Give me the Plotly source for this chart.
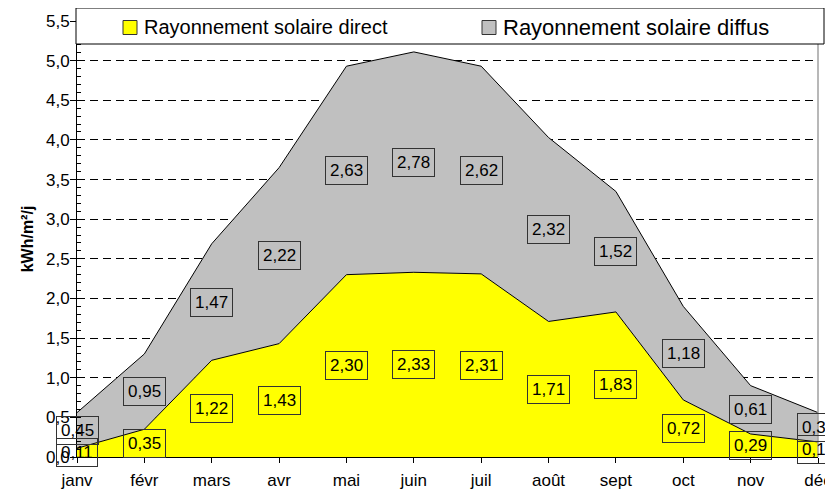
import plotly.graph_objects as go

months = ['janv', 'févr', 'mars', 'avr', 'mai', 'juin',
          'juil', 'août', 'sept', 'oct', 'nov', 'déc']
direct = [0.11, 0.35, 1.22, 1.43, 2.30, 2.33, 2.31, 1.71, 1.83, 0.72, 0.29, 0.19]
diffus = [0.45, 0.95, 1.47, 2.22, 2.63, 2.78, 2.62, 2.32, 1.52, 1.18, 0.61, 0.37]

FONT = 'Liberation Sans, Arial, sans-serif'
YELLOW = '#FFFF00'
GREY = '#C0C0C0'

# page has an 8px body margin, so the figure is a bit smaller than the window
OFF = 8
W, H = 833 - OFF, 493 - OFF
L, R, T, B = 77 - OFF, 15, 21 - OFF, 36
pw, ph = W - L - R, H - T - B


# page pixel -> paper coords
def px_x(x):
    return (x - OFF - L) / pw


def px_y(y):
    return (H - B - (y - OFF)) / ph


def fr(v):
    return f'{v:.2f}'.replace('.', ',')


fig = go.Figure()

# invisible trace so the base axes (ticks, labels, grid) get drawn
fig.add_trace(go.Scatter(
    x=months, y=direct, mode='lines', opacity=0, hoverinfo='skip',
    line=dict(width=0, color='rgba(0,0,0,0)'), showlegend=False))

# areas live on overlaid axes, so they are drawn above the base grid
fig.add_trace(go.Scatter(
    x=months, y=direct, stackgroup='one', mode='lines',
    xaxis='x2', yaxis='y2',
    line=dict(color='black', width=1), fillcolor=YELLOW,
    name='Rayonnement solaire direct', showlegend=False))
fig.add_trace(go.Scatter(
    x=months, y=diffus, stackgroup='one', mode='lines',
    xaxis='x2', yaxis='y2',
    line=dict(color='black', width=1), fillcolor=GREY,
    name='Rayonnement solaire diffus', showlegend=False))

# boxed value labels, centred in each band
for m, d, f in zip(months, direct, diffus):
    for val, yy in ((d, d / 2), (f, d + f / 2)):
        fig.add_annotation(x=m, y=yy, xref='x2', yref='y2', text=fr(val),
                           showarrow=False,
                           font=dict(family=FONT, size=17, color='black'),
                           bordercolor='#333333', borderwidth=1, borderpad=4,
                           bgcolor='rgba(0,0,0,0)')

# right border of plot area
fig.add_shape(type='line', xref='paper', yref='paper', x0=1, x1=1, y0=0, y1=1,
              line=dict(color='#A0A0A0', width=1.5))

# legend box drawn by hand
fig.add_shape(type='rect', xref='paper', yref='paper', layer='above',
              x0=px_x(76), x1=px_x(824), y0=px_y(44), y1=px_y(8),
              fillcolor='white', line=dict(color='black', width=1))
for x0, col, label, size in ((123, YELLOW, 'Rayonnement solaire direct', 20),
                             (482, GREY, 'Rayonnement solaire diffus', 22)):
    fig.add_shape(type='rect', xref='paper', yref='paper', layer='above',
                  x0=px_x(x0), x1=px_x(x0 + 14), y0=px_y(34.5), y1=px_y(20.5),
                  fillcolor=col, line=dict(color='#333333', width=1))
    fig.add_annotation(xref='paper', yref='paper', x=px_x(x0 + 19), y=px_y(27.5),
                       xanchor='left', yanchor='middle', showarrow=False,
                       text=label, font=dict(family=FONT, size=size, color='black'))

xcommon = dict(type='category', categoryorder='array', categoryarray=months,
               range=[0, 11], automargin=False,
               showline=True, linecolor='black', linewidth=1,
               ticks='outside', ticklen=5, tickcolor='black',
               showgrid=False, zeroline=False)
ycommon = dict(range=[0, 5.5], dtick=0.5, tickformat='.1f', automargin=False,
               showline=True, linecolor='black', linewidth=1,
               ticks='outside', ticklen=6, tickcolor='black', zeroline=False,
               minor=dict(dtick=0.1, ticks='inside', ticklen=4, tickcolor='black'))

fig.update_layout(
    width=W, height=H,
    margin=dict(l=L, r=R, t=T, b=B),
    plot_bgcolor='white', paper_bgcolor='white',
    separators=', ',
    font=dict(family=FONT, size=16, color='black'),
    showlegend=False,
    xaxis=dict(**xcommon, ticklabelstandoff=3,
               tickfont=dict(family=FONT, size=17)),
    yaxis=dict(**ycommon, showgrid=True, gridcolor='black', gridwidth=1,
               griddash='8px,5px', ticklabelstandoff=-3,
               tickfont=dict(family=FONT, size=17),
               title=dict(text='<b>kWh/m²/j</b>',
                          font=dict(family=FONT, size=16), standoff=8)),
    xaxis2=dict(**xcommon, overlaying='x', showticklabels=False),
    yaxis2=dict(**ycommon, overlaying='y', showgrid=False, showticklabels=False),
)

fig.write_html('out.html')
